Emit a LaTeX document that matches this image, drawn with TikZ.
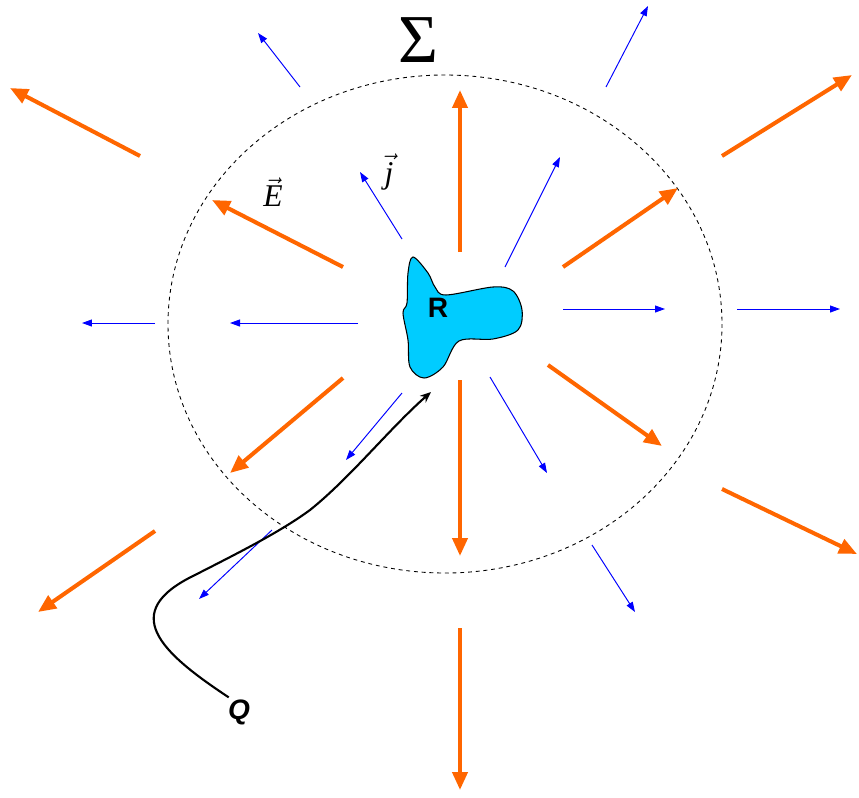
\documentclass[tikz,border=0pt]{standalone}
\usepackage{fontspec}
\newfontfamily\arialfont{Liberation Sans}
\newfontfamily\timesfont{Liberation Serif}
\usepackage{tikz}
\usetikzlibrary{arrows.meta}
\definecolor{efieldorange}{HTML}{FF6600}
\definecolor{blobcyan}{HTML}{00CCFF}

\begin{document}
\begin{tikzpicture}[
    x=0.02cm, y=-0.02cm,
    efield/.style={-{Triangle[length=0.36cm, width=0.3cm]}, line width=2.3pt, color=efieldorange},
    jfield/.style={-{Triangle[length=0.2cm, width=0.14cm]}, line width=0.55pt, color=blue},
    surface/.style={draw=black, line width=0.5pt, dash pattern=on 2.2pt off 2.2pt},
    region/.style={draw=black, line width=0.6pt, fill=blobcyan},
    path/.style={-{Stealth[length=0.22cm, width=0.18cm]}, line width=1.2pt, color=black},
    label/.style={font=\arialfont\bfseries\fontsize{16}{18}\selectfont, inner sep=1pt},
    field/.style={font=\timesfont\itshape\fontsize{18}{20}\selectfont, inner sep=1pt}
]
\useasboundingbox (0,0) rectangle (859,798);

\draw[surface] (445,324) ellipse [x radius=277, y radius=249];

\draw[region] plot[smooth cycle, tension=0.55] coordinates {
    (413,257) (428,273) (435,287) (446,295) (493,287) (513,291) (522,310)
    (518,330) (493,339) (459,341) (443,367) (424,378) (410,367) (408,340)
    (403,313) (407,303) (408,273)};
\node[label] (R) at (438,308) {R};

\foreach \xa/\ya/\xb/\yb in {460/252/460/90, 460/380/460/556, 343/267/212/200, 563/267/678/188,
    343/378/230/473, 548/365/662/446, 140/156/10/88, 722/156/852/75,
    155/531/38/612, 722/489/857/554, 460/628/460/790}
  \draw[efield] (\xa,\ya) -- (\xb,\yb);

\foreach \xa/\ya/\xb/\yb in {358/323/230/323, 563/309/665/309, 402/239/360/172, 505/267/560/157,
    402/393/346/460, 490/377/547/473, 155/323/82/323, 737/309/840/309,
    300/87/258/33, 606/87/648/6, 272/530/199/599, 592/545/635/612}
  \draw[jfield] (\xa,\ya) -- (\xb,\yb);

\node[inner sep=0pt] (sigma) at (418,40) {\timesfont\fontsize{39}{42}\selectfont Σ};
\node[field] (E) at (273,192) {$\vec{\mbox{E}}$};
\node[field] (j) at (389,172) {$\vec{\mbox{j}}$};
\node[label, font=\arialfont\bfseries\itshape\fontsize{16}{18}\selectfont] (Q) at (239,712) {Q};

\coordinate (entry) at (431,392);
\draw[path] (Q.125) .. controls (160,652) and (118,612) .. (195,575)
    .. controls (240,552) and (280,532) .. (310,510)
    .. controls (350,478) and (390,428) .. (entry);

\end{tikzpicture}
\end{document}
